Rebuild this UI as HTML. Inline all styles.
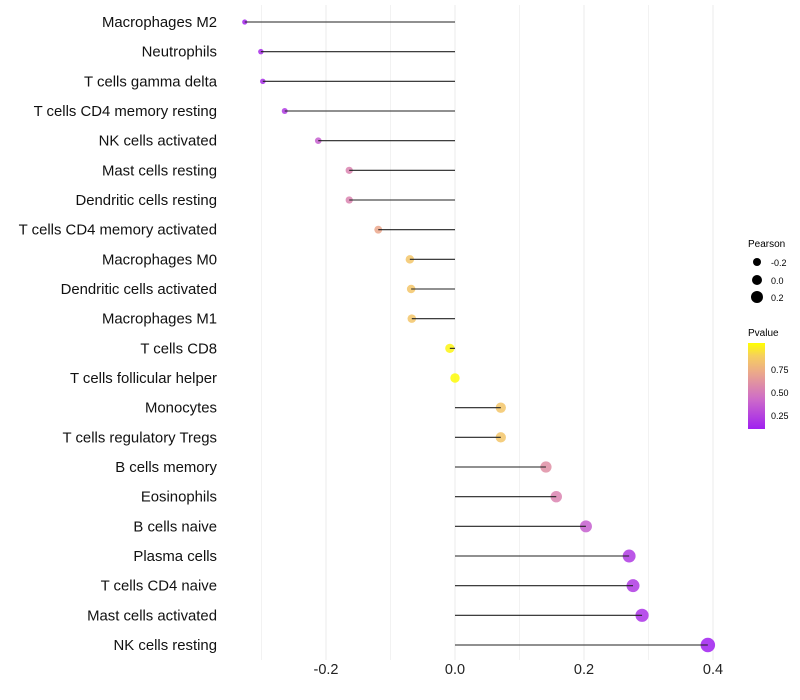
<!DOCTYPE html>
<html><head><meta charset="utf-8"><style>
body{margin:0;background:#fff;font-family:"Liberation Sans",sans-serif}
svg{display:block}
</style></head><body>
<svg id="chart" width="800" height="700">
<defs><linearGradient id="pg" x1="0" y1="1" x2="0" y2="0">
<stop offset="0" stop-color="#A020F0"/><stop offset="0.35" stop-color="#CE6CC8"/><stop offset="0.65" stop-color="#EBA78C"/><stop offset="0.85" stop-color="#F6CF5E"/><stop offset="1" stop-color="#FFFF00"/></linearGradient></defs>
<g id="grid"></g>
<g id="dots"></g>
<g id="marks"></g>
<g id="labels"></g>
<g id="xticks"></g>
<g font-size="10">
<text x="748" y="247">Pearson</text>
<circle cx="757" cy="262" r="4" fill="#000"/><text x="771" y="266" font-size="9">-0.2</text>
<circle cx="757" cy="280" r="5" fill="#000"/><text x="771" y="284" font-size="9">0.0</text>
<circle cx="757" cy="297" r="6" fill="#000"/><text x="771" y="301" font-size="9">0.2</text>
</g>
<g>
<text x="748" y="336" font-size="10">Pvalue</text>
<rect x="748" y="343" width="17" height="86" fill="url(#pg)"/>
<text x="771" y="373" font-size="9">0.75</text>
<text x="771" y="396" font-size="9">0.50</text>
<text x="771" y="419" font-size="9">0.25</text>
</g>
</svg>
<script>
const categories=["Macrophages M2","Neutrophils","T cells gamma delta","T cells CD4 memory resting","NK cells activated","Mast cells resting","Dendritic cells resting","T cells CD4 memory activated","Macrophages M0","Dendritic cells activated","Macrophages M1","T cells CD8","T cells follicular helper","Monocytes","T cells regulatory  Tregs ","B cells memory","Eosinophils","B cells naive","Plasma cells","T cells CD4 naive","Mast cells activated","NK cells resting"];
const pearson=[-0.326,-0.301,-0.298,-0.264,-0.212,-0.164,-0.164,-0.119,-0.070,-0.068,-0.067,-0.008,0.000,0.071,0.071,0.141,0.157,0.203,0.270,0.276,0.290,0.392];
const pvalue=[0.12,0.15,0.15,0.2,0.35,0.5,0.5,0.65,0.8,0.8,0.8,0.97,0.99,0.8,0.8,0.55,0.5,0.35,0.2,0.2,0.17,0.08];
const xTicks=[-0.2,0.0,0.2,0.4];
const xMinor=[-0.3,-0.1,0.1,0.3];
const NS="http://www.w3.org/2000/svg";
const x=v=>455+v*645;
const y=i=>22+i*29.667;
const r=v=>4.7+6.5*v;
const stops=[[0.1,[160,32,240]],[0.4,[206,108,200]],[0.65,[235,167,140]],[0.85,[246,207,94]],[1.0,[255,255,0]]];
function col(p){p=Math.max(0.1,Math.min(1,p));for(let k=1;k<stops.length;k++){if(p<=stops[k][0]){const a=stops[k-1],b=stops[k],t=(p-a[0])/(b[0]-a[0]);return "rgb("+a[1].map((c,j)=>Math.round(c+(b[1][j]-c)*t)).join(",")+")";}}return "rgb(255,255,0)";}
function mk(tag,attrs,parent){const e=document.createElementNS(NS,tag);for(const k in attrs)e.setAttribute(k,attrs[k]);parent.appendChild(e);return e;}
const grid=document.getElementById('grid'),dots=document.getElementById('dots'),marks=document.getElementById('marks'),labels=document.getElementById('labels'),xt=document.getElementById('xticks');
xMinor.forEach(v=>{const l=mk('line',{x1:x(v),x2:x(v),y1:5,y2:660,stroke:'#f2f2f2','stroke-width':1},grid);

});
xTicks.forEach(v=>{const l=mk('line',{x1:x(v),x2:x(v),y1:5,y2:660,stroke:'#ebebeb','stroke-width':1},grid);


const t=mk('text',{x:x(v),y:674,'text-anchor':'middle','font-size':14.5,fill:'#222'},xt);t.textContent=v.toFixed(1);

});
categories.forEach((c,i)=>{
const t=mk('text',{x:217,y:y(i)+5,'text-anchor':'end','font-size':14.9,fill:'#111'},labels);t.textContent=c;


const d=mk('circle',{cx:x(pearson[i]),cy:y(i),r:r(pearson[i]),fill:col(pvalue[i]),'fill-opacity':0.85},dots);


const ln=mk('line',{x1:x(0),x2:x(pearson[i]),y1:y(i),y2:y(i),stroke:'#222','stroke-width':1.1},marks);


});
</script>
</body></html>
